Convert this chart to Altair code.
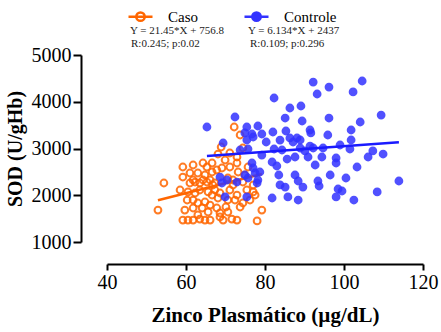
import altair as alt
import pandas as pd

# ---- data ----
groups = ["Caso", "Controle"]
colors_stroke = ["#ff6600", "#3333ff"]
colors_fill = ["transparent", "#3333ff"]
line_colors = ["#ff6600", "#1a1aff"]

caso_x = [54.4, 52.9, 59.2, 61.8, 64.3, 66.6, 59.2, 61.0, 63.0, 64.8, 66.6, 67.8, 69.1, 71.1,
          61.0, 62.3, 63.5, 65.3, 67.3, 60.5, 62.3, 63.5, 65.6, 67.3, 71.1, 60.3, 61.8, 63.0,
          64.8, 66.1, 68.1, 70.6, 72.4, 61.8, 64.1, 65.6, 67.8, 70.6, 59.2, 60.5, 61.8, 63.5,
          64.8, 66.1, 68.6, 69.4, 71.6, 72.9, 63.0, 68.6, 64.3, 66.8, 68.6, 71.9, 72.9, 74.4,
          73.7, 79.2, 78.0, 77.0, 77.5, 72.2, 68.9, 68.1, 71.1, 72.9, 74.4, 75.7, 72.9, 73.2,
          71.9, 74.4, 77.0, 65.3, 66.1, 61.8, 69.9, 74.9, 76.2, 70.6, 58.5, 59.7, 73.7, 66.6,
          70.1, 75.4]
caso_y = [2262, 1684, 2604, 2647, 2690, 2690, 2390, 2476, 2476, 2433, 2497, 2540, 2583, 2604,
          2262, 2283, 2262, 2283, 2262, 2070, 2048, 2112, 2070, 2112, 2112, 1898, 1898, 1834,
          1856, 1791, 1941, 1898, 1898, 1727, 1727, 1642, 1727, 1642, 1470, 1470, 1470, 1490,
          1470, 1470, 1535, 1470, 1490, 1470, 1578, 1620, 2326, 2219, 2048, 2219, 2005, 1834,
          1749, 1684, 1450, 2070, 2005, 3460, 3032, 2882, 2904, 2818, 3011, 2604, 2690, 2497,
          2326, 2283, 2219, 2604, 2326, 2326, 2754, 2433, 1898, 2369, 2112, 1684, 3289, 2005,
          1749, 2112]

ctrl_x = [65.3, 72.4, 75.4, 78.2, 79.2, 76.7, 74.9, 75.4, 82.0, 69.4, 73.7, 75.7, 81.8, 76.7,
          77.0, 78.7, 74.9, 75.7, 68.6, 70.4, 78.0, 72.9, 69.9, 75.4, 81.8, 69.1,
          92.2, 96.2, 104.6, 102.3, 93.2, 82.3, 86.3, 89.1, 109.4, 85.1, 89.4, 96.2, 104.1,
          85.3, 91.4, 101.8, 95.9, 77.0, 86.3, 88.1, 88.9, 87.1, 91.6, 101.8, 82.3, 88.9, 90.1,
          91.4, 92.2, 94.7, 101.5, 107.3, 109.9, 106.1, 87.6, 90.9, 94.4, 85.6, 98.0, 98.0,
          83.0, 103.3, 83.5, 87.6, 88.4, 89.6, 100.5, 93.4, 93.7, 113.9, 85.1, 98.5, 99.5,
          98.0, 108.4, 85.8, 88.4, 102.5, 77.5, 78.2, 83.8, 80.3, 84.3, 92.7, 96.5, 79.2,
          99.0, 83.8]
ctrl_y = [3460, 3674, 3460, 3481, 3310, 3310, 3332, 3182, 3353, 3118, 2968, 2989, 2711, 2690,
          2583, 2497, 2433, 2369, 2390, 2326, 2262, 2283, 1963, 1963, 1941, 2262,
          4422, 4315, 4444, 4209, 4166, 4080, 3866, 3909, 3716, 3652, 3588, 3652, 3567,
          3374, 3396, 3396, 3289, 3246, 3225, 3225, 3182, 3139, 3332, 3182, 2989, 3011, 2947,
          3053, 3011, 3011, 2989, 2947, 2882, 2818, 2818, 2818, 2818, 2775, 2797, 2690,
          2626, 2604, 2433, 2433, 2305, 2176, 2369, 2305, 2198, 2305, 2176, 2134, 2091,
          1963, 2070, 1963, 1898, 1898, 2476, 2326, 3180, 3139, 2968, 2647, 2433, 2860,
          3075, 2220]

slopes = [21.45, 6.134]
intercepts = [756.8, 2437]
eq_labels = ["Y = 21.45*X + 756.8", "Y = 6.134*X + 2437"]
stat_labels = ["R:0.245; p:0.02", "R:0.109; p:0.296"]

x_ticks = [40, 60, 80, 100, 120]
y_ticks = [1000, 2000, 3000, 4000, 5000]

FONT = "Liberation Serif, Times New Roman, serif"

pts = pd.concat([
    pd.DataFrame({"zinco": caso_x, "sod": caso_y, "grupo": groups[0]}),
    pd.DataFrame({"zinco": ctrl_x, "sod": ctrl_y, "grupo": groups[1]}),
], ignore_index=True)

def fit_line(xs, slope, intercept, g):
    lo, hi = min(xs), max(xs)
    return pd.DataFrame({"zinco": [lo, hi],
                         "sod": [slope * lo + intercept, slope * hi + intercept],
                         "grupo": g})

line_caso = fit_line(caso_x, slopes[0], intercepts[0], groups[0])
line_ctrl = fit_line(ctrl_x, slopes[1], intercepts[1], groups[1])

xscale = alt.Scale(domain=[40, 120], nice=False, zero=False)
yscale = alt.Scale(domain=[1000, 5000], nice=False, zero=False)

x_axis = alt.Axis(values=x_ticks, format="d", offset=22, grid=False, domainColor="black",
                  domainWidth=2, tickColor="black", tickWidth=2, tickSize=6, labelFont=FONT,
                  labelFontSize=20, labelColor="black", labelPadding=2, labelFlush=False,
                  title="Zinco Plasmático (µg/dL)", titleFont=FONT, titleFontSize=21,
                  titleFontWeight="bold", titleColor="black", titlePadding=12)
y_axis = alt.Axis(values=y_ticks, format="d", offset=26, grid=False, domainColor="black",
                  domainWidth=2, tickColor="black", tickWidth=2, tickSize=8, labelFont=FONT,
                  labelFontSize=20, labelColor="black", labelPadding=2, labelFlush=False,
                  title="SOD (U/gHb)", titleFont=FONT, titleFontSize=20,
                  titleFontWeight="bold", titleColor="black", titlePadding=6)

SYMBOL = ("M-1,0L1,0M0.35,0A0.35,0.35,0,1,1,-0.35,0A0.35,0.35,0,1,1,0.35,0Z")
legend = alt.Legend(orient="none", legendX=20, legendY=-52, direction="horizontal", columns=2,
                    symbolType=SYMBOL, symbolSize=576, symbolStrokeWidth=2.5,
                    labelFont=FONT, labelFontSize=15, labelColor="black", labelOffset=14,
                    columnPadding=41, title=None, padding=0, symbolOpacity=1)

base_x = alt.X("zinco:Q", scale=xscale, axis=x_axis)
base_y = alt.Y("sod:Q", scale=yscale, axis=y_axis)

l_caso = alt.Chart(line_caso).mark_line(strokeWidth=2.5, color=line_colors[0]).encode(
    x=base_x, y=base_y)

points = alt.Chart(pts).mark_point(size=46, strokeWidth=2, opacity=0.85).encode(
    x=base_x, y=base_y,
    stroke=alt.Stroke("grupo:N", scale=alt.Scale(domain=groups, range=colors_stroke), legend=legend),
    fill=alt.Fill("grupo:N", scale=alt.Scale(domain=groups, range=colors_fill), legend=legend),
)

l_ctrl = alt.Chart(line_ctrl).mark_line(strokeWidth=2.5, color=line_colors[1]).encode(
    x=base_x, y=base_y)

one = alt.Data(values=[{}])
def label(txt, x, y):
    return alt.Chart(one).mark_text(text=txt, font=FONT, fontSize=11, color="#222222",
                                    align="left", baseline="middle").encode(
        x=alt.value(x), y=alt.value(y))

texts = [label(eq_labels[0], 23, -24), label(stat_labels[0], 24, -11),
         label(eq_labels[1], 141, -24), label(stat_labels[1], 143, -11)]

chart = alt.layer(l_caso, points, l_ctrl, *texts).properties(
    width=316, height=187,
    autosize=alt.AutoSizeParams(type="none"),
    padding={"left": 107, "top": 55, "right": 18, "bottom": 90},
).configure_view(strokeWidth=0)

chart.save("out.html", embed_options={"renderer": "svg", "actions": False})
